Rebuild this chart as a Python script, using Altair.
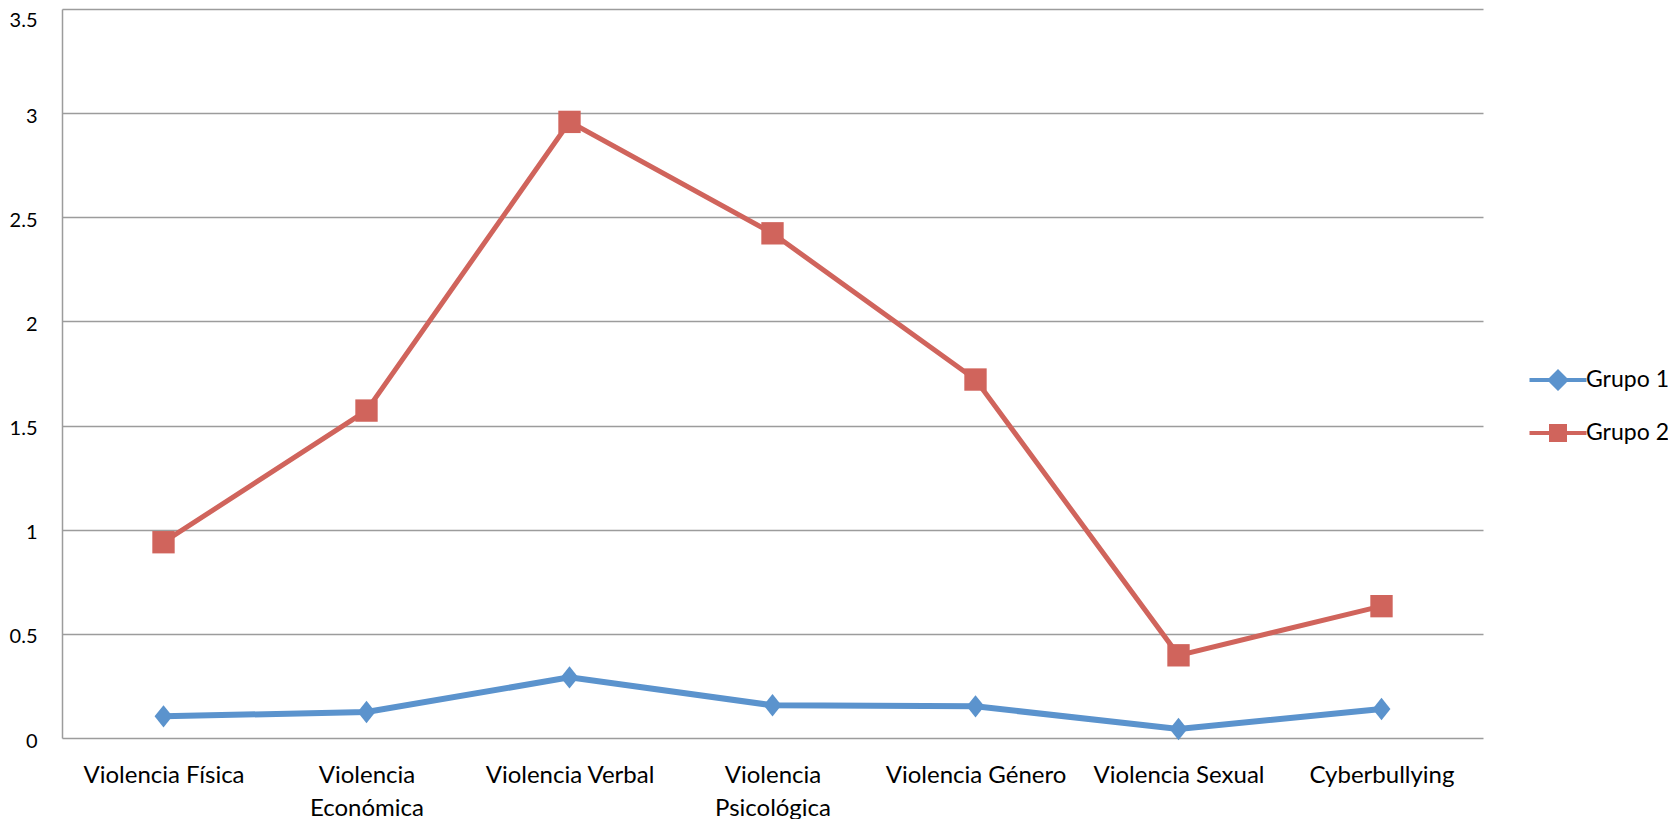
import altair as alt
import pandas as pd

categorias = ["Violencia Física", "Violencia Económica", "Violencia Verbal",
              "Violencia Psicológica", "Violencia Género", "Violencia Sexual",
              "Cyberbullying"]
grupo1 = [0.104, 0.125, 0.291, 0.157, 0.152, 0.043, 0.139]
grupo2 = [0.940, 1.572, 2.958, 2.423, 1.721, 0.397, 0.633]
series = ["Grupo 1", "Grupo 2"]
colores = ["#5B93CD", "#D0645C"]
y_ticks = [0, 0.5, 1, 1.5, 2, 2.5, 3, 3.5]

rows = []
for s, vals in zip(series, [grupo1, grupo2]):
    for c, v in zip(categorias, vals):
        rows.append({"categoria": c, "grupo": s, "valor": v})
df = pd.DataFrame(rows)

FONT = "Lato"
diamond = "M0,-1L0.8,0L0,1L-0.8,0Z"
leg1 = ("M-1.425,-0.1L-0.45,-0.1L0,-0.55L0.45,-0.1L1.425,-0.1L1.425,0.1"
        "L0.45,0.1L0,0.55L-0.45,0.1L-1.425,0.1Z")
leg2 = ("M-1.425,-0.1L-0.45,-0.1L-0.45,-0.45L0.45,-0.45L0.45,-0.1L1.425,-0.1"
        "L1.425,0.1L0.45,0.1L0.45,0.45L-0.45,0.45L-0.45,0.1L-1.425,0.1Z")

x = alt.X(
    "categoria:N", sort=categorias,
    scale=alt.Scale(type="point", padding=0.5),
    axis=alt.Axis(title=None, labelAngle=0, domain=False, ticks=False,
                  labelPadding=25, labelFontSize=24, labelFont=FONT,
                  labelColor="black", labelLineHeight=33, labelLimit=400,
                  labelExpr="length(datum.label) > 17 ? split(datum.label, ' ') : datum.label"),
)
y = alt.Y(
    "valor:Q",
    scale=alt.Scale(domain=[0, 3.5], nice=False, zero=True),
    axis=alt.Axis(title=None, values=y_ticks, format="~g", grid=True,
                  gridColor="#9C9C9C", gridWidth=1.5, domain=True,
                  domainColor="#9C9C9C", domainWidth=1.5, ticks=False,
                  labelPadding=25, labelFontSize=20, labelFont=FONT,
                  labelColor="black",
                  labelOffset={"condition": {"test": "datum.value == 3.5", "value": 11}, "value": 3}),
)


def capa(nombre, color, forma, grosor, simbolo, leg_y):
    d = df[df["grupo"] == nombre]
    linea = alt.Chart(d).mark_line(color=color, strokeWidth=grosor).encode(x=x, y=y)
    puntos = alt.Chart(d).mark_point(filled=True, size=500, opacity=1).encode(
        x=x, y=y,
        shape=alt.value(forma),
        color=alt.Color(
            "grupo:N",
            scale=alt.Scale(domain=[nombre], range=[color]),
            legend=alt.Legend(
                title=None, orient="none", legendX=1476, legendY=leg_y,
                symbolType=simbolo, symbolSize=1600, symbolStrokeWidth=0,
                labelFontSize=23, labelFont=FONT, labelColor="black",
                labelOffset=8, padding=0,
            ),
        ),
    )
    return alt.layer(linea, puntos)


g1 = capa(series[0], colores[0], diamond, 6, leg1, 351)
g2 = capa(series[1], colores[1], "square", 5, leg2, 404)

chart = alt.layer(g1, g2).resolve_scale(color="independent").properties(
    width=1421, height=729,
    autosize=alt.AutoSizeParams(type="none"),
    padding={"left": 54, "top": 1, "right": 185, "bottom": 81},
    background="white",
).configure_view(stroke=None)

chart.save("out.html", embed_options={"renderer": "svg", "actions": False})
